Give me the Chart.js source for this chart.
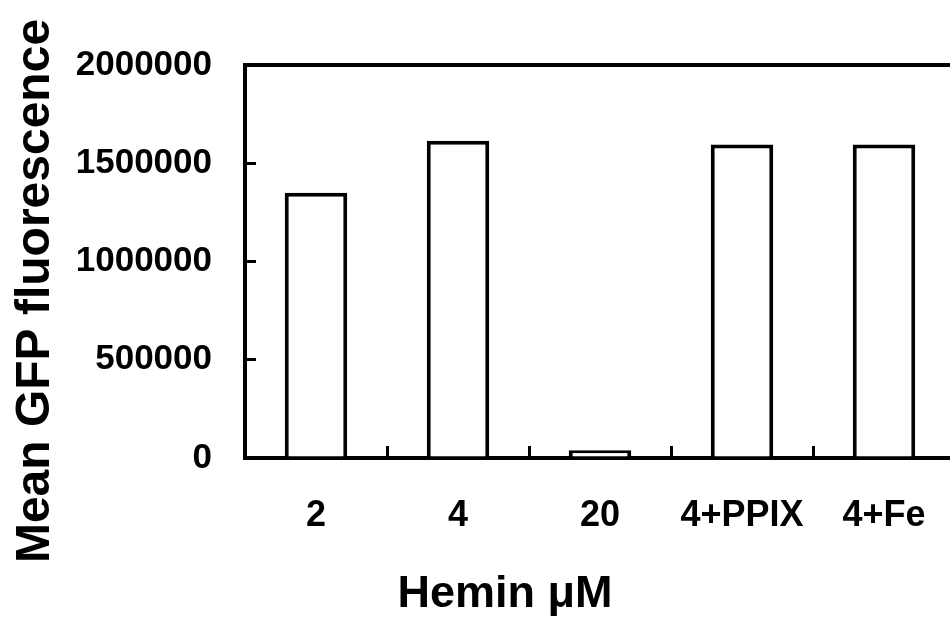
<!DOCTYPE html>
<html>
<head>
<meta charset="utf-8">
<script src="https://cdn.jsdelivr.net/npm/chart.js@4"></script>
<style>
  html, body { margin: 0; padding: 0; overflow: hidden; background: #fff; width: 950px; height: 624px; }
  canvas { display: block; }
</style>
</head>
<body>
<canvas id="c" width="1010" height="624" style="width:1010px;height:624px"></canvas>
<script>
// ---- data ----
const categories = ['2', '4', '20', '4+PPIX', '4+Fe'];
const fluorescence = [1350000, 1615000, 40000, 1595000, 1595000];
const yTicks = [0, 500000, 1000000, 1500000, 2000000];
const yTitle = 'Mean GFP fluorescence';
const xTitle = 'Hemin \u03bcM';

const FONT = "'Liberation Sans', Arial, Helvetica, sans-serif";

new Chart(document.getElementById('c'), {
  type: 'bar',
  data: {
    labels: categories,
    datasets: [{
      data: fluorescence,
      backgroundColor: '#ffffff',
      borderColor: '#000000',
      borderWidth: 4,
      barPercentage: 0.44,
      categoryPercentage: 1
    }]
  },
  options: {
    responsive: false,
    animation: false,
    devicePixelRatio: 1,
    layout: { padding: { top: 0, left: 0, right: 0, bottom: 42 } },
    plugins: {
      legend: { display: false },
      tooltip: { enabled: false },
      title: {
        display: true, position: 'left', text: yTitle, color: '#000',
        font: { family: FONT, size: 48, weight: 'bold', lineHeight: 1 },
        padding: { top: 12, bottom: 0 }
      },
      subtitle: {
        display: true, position: 'bottom', text: xTitle, color: '#000',
        font: { family: FONT, size: 45, weight: 'bold', lineHeight: 1 },
        padding: { top: 0, bottom: -35.5 }
      }
    },
    scales: {
      x: {
        position: 'bottom', z: 1,
        grid: { display: true, offset: true, drawOnChartArea: false, drawTicks: true, tickLength: -12, lineWidth: 3, color: '#000' },
        border: { display: true, color: '#000', width: 4 },
        ticks: { color: '#000', font: { family: FONT, size: 36, weight: 'bold' }, padding: 48, maxRotation: 0, autoSkip: false },
        afterFit: s => { s.height = 114.5; }
      },
      y: {
        position: 'left', z: 1, min: 0, max: 2000000,
        afterBuildTicks: s => { s.ticks = yTicks.map(v => ({ value: v })); },
        ticks: { color: '#000', font: { family: FONT, size: 35, weight: 'bold' }, padding: 44, callback: v => String(v) },
        grid: { display: true, drawOnChartArea: false, drawTicks: true, tickLength: -11, lineWidth: 3, color: '#000' },
        border: { display: true, color: '#000', width: 4 },
        afterFit: s => { s.width = 185; }
      },
      x2: {
        type: 'category', position: 'top', display: true,
        grid: { display: false }, ticks: { display: false },
        border: { display: true, color: '#000', width: 4 },
        afterFit: s => { s.height = 63; }
      },
      y2: {
        type: 'linear', position: 'right', display: true,
        grid: { display: false }, ticks: { display: false },
        border: { display: true, color: '#000', width: 4 },
        afterFit: s => { s.width = 55; }
      }
    }
  }
});
</script>
</body>
</html>
